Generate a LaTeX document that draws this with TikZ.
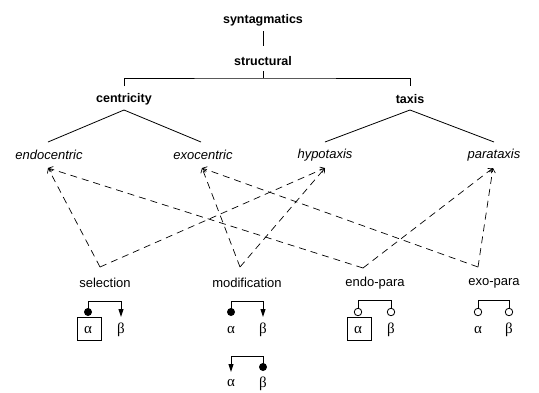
\documentclass[tikz,border=0pt]{standalone}
\usepackage{fontspec}
\setmainfont{Liberation Sans}
\newfontfamily\greekfont{Liberation Serif}
\usetikzlibrary{arrows.meta}
\begin{document}
\begin{tikzpicture}[x=1pt,y=-1pt,
  lab/.style={font=\fontsize{13}{15}\selectfont, inner sep=0pt},
  head/.style={inner sep=0pt, font=\fontsize{12.5}{15}\selectfont\bfseries},
  cat/.style={inner sep=0pt, font=\fontsize{13}{15}\selectfont\itshape},
  gr/.style={font=\greekfont\fontsize{15}{17}\selectfont, inner sep=0pt},
  tree/.style={line width=0.8pt},
  rel/.style={dash pattern=on 7pt off 5pt, line width=0.7pt, -{Straight Barb[length=4pt,width=6pt]}},
  brk/.style={line width=1pt},
  tipline/.style={brk, -{Triangle[length=8pt,width=5pt]}},
  fdot/.style={circle, fill, inner sep=0pt, minimum size=8pt},
  odot/.style={circle, draw, fill=white, line width=0.8pt, inner sep=0pt, minimum size=7.5pt},
  hbox/.style={draw, line width=0.8pt, minimum width=24pt, minimum height=23pt, inner sep=0pt}
]
\path[use as bounding box] (0,0) rectangle (539,392);

% tree labels
\node[head] (syn) at (263,20) {syntagmatics};
\node[head] (str) at (263,61) {structural};
\node[head] (cen) at (124,99) {centricity};
\node[head] (tax) at (410,99) {taxis};
\node[cat] (endo) at (49,155) {endocentric};
\node[cat] (exo) at (203,155) {exocentric};
\node[cat] (hypo) at (325,155) {hypotaxis};
\node[cat] (para) at (494,155) {parataxis};
\node[lab] (sel) at (105,283) {selection};
\node[lab] (mod) at (247,283) {modification};
\node[lab] (endop) at (375,283) {endo-para};
\node[lab] (exop) at (494,283) {exo-para};

% attach points
\coordinate (synB) at (263,31);
\coordinate (strT) at (263,46);
\coordinate (strB) at (263,71);
\coordinate (barM) at (263,78);
\coordinate (cenT) at (124,86);
\coordinate (taxT) at (410,86);
\coordinate (cenB) at (124,110);
\coordinate (taxB) at (410,110);
\coordinate (endoT) at (48,142);
\coordinate (exoT) at (201,142);
\coordinate (hypoT) at (325,142);
\coordinate (paraT) at (494,142);

\coordinate (endoA) at (48,168);
\coordinate (exoA) at (202,168);
\coordinate (hypoA) at (325,168);
\coordinate (paraA) at (493,168);
\coordinate (selA) at (100,267);
\coordinate (modA) at (240,267);
\coordinate (endopA) at (363,268);
\coordinate (exopA) at (478,267);

% tree
\draw[tree] (synB) -- (strT);
\draw[tree] (strB) -- (barM);
\draw[tree] (cenT) |- (barM) -| (taxT);
\draw[tree] (cenB) -- (endoT);
\draw[tree] (cenB) -- (exoT);
\draw[tree] (taxB) -- (hypoT);
\draw[tree] (taxB) -- (paraT);

% dashed relations
\draw[rel] (selA) -- (endoA);
\draw[rel] (selA) -- (hypoA);
\draw[rel] (modA) -- (exoA);
\draw[rel] (modA) -- (hypoA);
\draw[rel] (endopA) -- (endoA);
\draw[rel] (endopA) -- (paraA);
\draw[rel] (exopA) -- (exoA);
\draw[rel] (exopA) -- (paraA);

% selection symbol
\node[hbox] (sbox) at (89,328.5) {};
\node[gr] (sal) at (88,330) {α};
\node[gr] (sbe) at (121,330) {β};
\node[fdot] (selD) at (88,312) {};
\coordinate (selR) at (121,317);
\draw[tipline] (selD.center) -- ++(0,-11) -| (selR);

% modification symbols
\node[gr] (mal) at (231,330) {α};
\node[gr] (mbe) at (263,330) {β};
\node[fdot] (modD) at (231,312) {};
\coordinate (modR) at (263,317);
\draw[tipline] (modD.center) -- ++(0,-11) -| (modR);

\node[gr] (m2al) at (231,383.5) {α};
\node[gr] (m2be) at (263,383.5) {β};
\node[fdot] (mod2D) at (263,367) {};
\coordinate (mod2L) at (231,372);
\draw[tipline] (mod2D.center) -- ++(0,-11) -| (mod2L);

% endo-para symbol
\node[hbox] (ebox) at (359,328.5) {};
\node[gr] (eal) at (358,330) {α};
\node[gr] (ebe) at (391,330) {β};
\node[odot] (eL) at (358,312) {};
\node[odot] (eR) at (391,312) {};
\draw[brk] (eL.north) -- ++(0,-7) -| (eR.north);

% exo-para symbol
\node[gr] (xal) at (478,330) {α};
\node[gr] (xbe) at (509,330) {β};
\node[odot] (xL) at (478,312) {};
\node[odot] (xR) at (509,312) {};
\draw[brk] (xL.north) -- ++(0,-7) -| (xR.north);
\end{tikzpicture}
\end{document}
